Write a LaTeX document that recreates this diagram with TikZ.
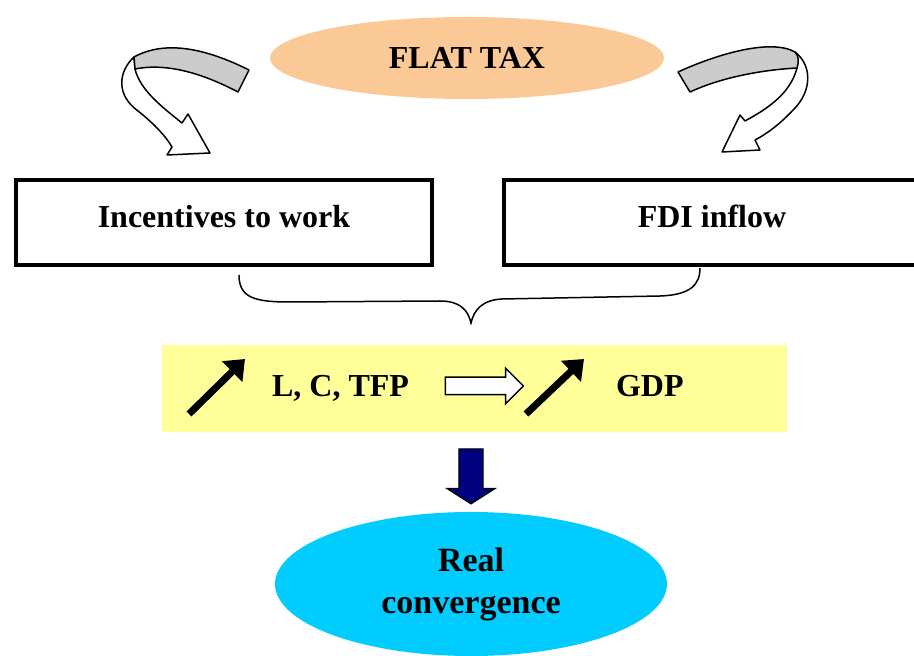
\documentclass[tikz,border=0pt]{standalone}
\usepackage{fontspec}
\setmainfont{Liberation Serif}
\usetikzlibrary{shapes,arrows,arrows.meta,calc,positioning}

\definecolor{peach}{RGB}{251,201,150}
\definecolor{paleyellow}{RGB}{255,255,153}
\definecolor{skyblue}{RGB}{0,204,255}
\definecolor{bandgray}{RGB}{204,204,204}
\definecolor{darknavy}{RGB}{0,0,128}

\begin{document}
\begin{tikzpicture}[x=0.5pt,y=-0.5pt,
    bold/.style={font=\fontsize{16}{21}\selectfont\bfseries},
    factor/.style={draw,line width=2pt,minimum width=208pt,minimum height=42.5pt,
                   text height=11pt,text depth=5.5pt,bold},
    blob/.style={ellipse,inner sep=0pt,bold},
    curl/.style={draw,line width=0.75pt,line join=round},
    up/.style={line width=3.5pt,-{Triangle[length=9pt,width=14pt]}}]
      \useasboundingbox (0,0) rectangle (914,656);
      \clip (0,0) rectangle (914,656);

      \node[blob,fill=peach,minimum width=197pt,minimum height=41pt] (flat) at (467,58) {FLAT TAX};
      \node[factor] (incent) at (224,222.5) {Incentives to work};
      \node[factor,anchor=west] (fdi) [right= 34pt of incent] {FDI inflow};

      \node[fill=paleyellow,minimum width=312.5pt,minimum height=43.5pt] (growth) at (474.5,388.5) {};
      \node[bold,anchor=base west] (lct) at (265,397) {L, C, TFP};
      \node[bold,anchor=base west] (gdp) at (609,397) {GDP};
      \node[single arrow,draw,fill=white,line width=0.75pt,inner xsep=0pt,inner ysep=4pt,
            single arrow head extend=4.5pt,minimum height=39pt] (imp) at (480,386) {};
      \draw[up] (189,414) -- (245,359);
      \draw[up] (526,414) -- (584,359);

      \node[single arrow,draw,fill=darknavy,line width=0.6pt,inner xsep=0pt,inner ysep=5.75pt,
            single arrow head extend=6pt,single arrow tip angle=115,minimum height=27.5pt,
            rotate=-90] (down) at (471,472.5) {};
      \node[blob,fill=skyblue,minimum width=196pt,minimum height=72pt,align=center,
            font=\fontsize{17}{21}\selectfont\bfseries] (conv) at (471,584) {Real\\convergence};

      \draw[line width=0.75pt] (239,275) .. controls (239,298) and (255,302) .. (290,302)
          -- (440,301) .. controls (460,301) and (468,310) .. (471,323)
          .. controls (474,310) and (482,300) .. (502,299) -- (660,296)
          .. controls (690,295) and (700,285) .. (700,268);

      \path[curl,fill=white] (134,57) .. controls (118,72) and (116,95) .. (138,111)
          .. controls (152,122) and (165,135) .. (172,147) -- (167,155) -- (210,153)
          -- (188,114) -- (182,123) .. controls (162,107) and (140,90) .. (135,69) -- cycle;
      \path[curl,fill=bandgray] (134,57) .. controls (165,40) and (205,48) .. (249,70)
          -- (238,92) .. controls (200,72) and (165,63) .. (135,69) -- cycle;

      \path[curl,fill=white] (795,52) .. controls (812,65) and (812,90) .. (795,108)
          .. controls (782,122) and (770,132) .. (755,140) -- (760,150) -- (722,152)
          -- (740,115) -- (745,121) .. controls (765,110) and (790,95) .. (797,68) -- cycle;
      \path[curl,fill=bandgray] (678,72) .. controls (715,55) and (770,38) .. (795,52)
          .. controls (799,56) and (799,62) .. (797,68) .. controls (760,70) and (720,78) .. (690,92) -- cycle;
    \end{tikzpicture}
\end{document}
